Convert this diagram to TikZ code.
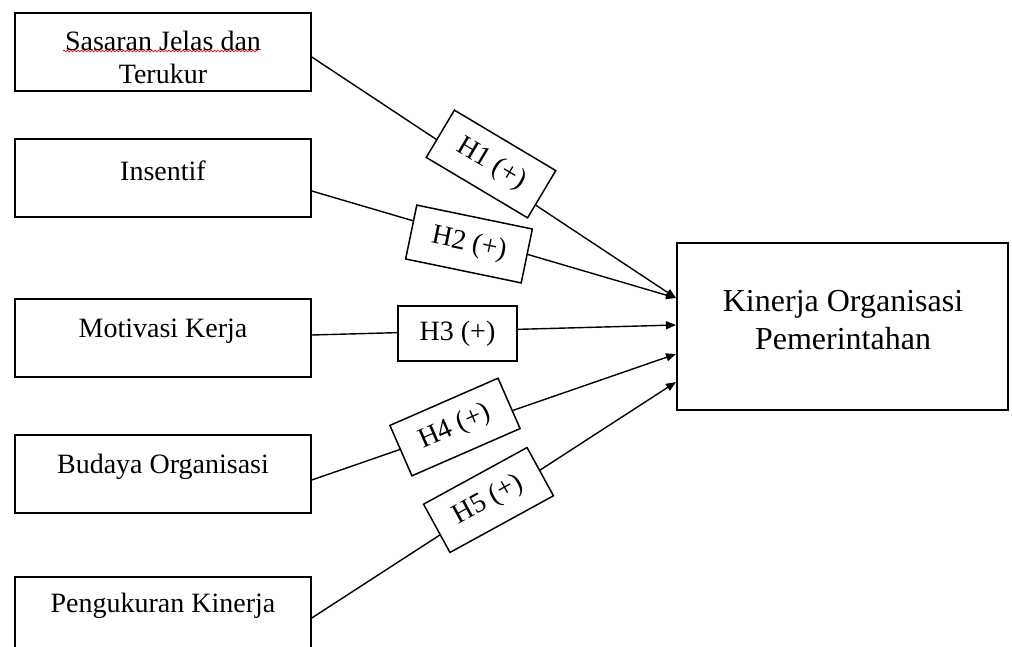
\documentclass[tikz,border=0pt]{standalone}
\usepackage{fontspec}
\setmainfont{Liberation Serif}
\usetikzlibrary{arrows.meta,decorations.pathmorphing}
\begin{document}
\begin{tikzpicture}[x=1pt,y=-1pt,
  lbox/.style={draw,line width=1.5pt,minimum width=296pt,minimum height=78pt,inner sep=0pt},
  ltext/.style={align=center,font=\fontsize{28}{33}\selectfont,inner sep=0pt},
  rbox/.style={draw,line width=2pt,minimum width=331pt,minimum height=167pt,inner sep=0pt},
  rtext/.style={align=center,font=\fontsize{32}{38}\selectfont,inner sep=0pt},
  hbox/.style={draw,fill=white,line width=1.5pt,minimum width=118pt,minimum height=55pt,inner sep=0pt,font=\fontsize{28}{33}\selectfont},
  conn/.style={line width=1.4pt,-{Triangle[length=10pt,width=8pt]}}]
\clip (0,0) rectangle (1012,647);
\fill[white] (0,0) rectangle (1012,647);
% left boxes
\node[lbox] (b1) at (163,52) {};
\node[lbox] (b2) at (163,178) {};
\node[lbox] (b3) at (163,338) {};
\node[lbox] (b4) at (163,474) {};
\node[lbox] (b5) at (163,616) {};
\node[ltext] (t1) at (163,57) {Sasaran Jelas dan\\Terukur};
\node[ltext] (t2) at (163,171) {Insentif};
\node[ltext] (t3) at (163,331) {Motivasi Kerja};
\node[ltext] (t4) at (163,467) {Budaya Organisasi};
\node[ltext] (t5) at (163,606) {Pengukuran Kinerja};
\draw[red,line width=0.7pt,decorate,decoration={snake,amplitude=0.8pt,segment length=3.5pt}] (63,51) -- (258,51);
% right box
\node[rbox] (k) at (842.5,326.5) {};
\node[rtext] (kt) at (843,320) {Kinerja Organisasi\\Pemerintahan};
% connectors
\draw[conn] ([yshift=-5pt]b1.east) -- ([yshift=28.5pt]k.west);
\draw[conn] ([yshift=-13pt]b2.east) -- ([yshift=28.5pt]k.west);
\draw[conn] ([yshift=3pt]b3.east) -- ([yshift=1.5pt]k.west);
\draw[conn] ([yshift=-6pt]b4.east) -- ([yshift=-27.5pt]k.west);
\draw[conn] ([yshift=-2pt]b5.east) -- ([yshift=-55.5pt]k.west);
% hypothesis labels
\node[hbox,rotate=-30.8] (h1) at (491,164) {H1 (+)};
\node[hbox,rotate=-11.7] (h2) at (469,244) {H2 (+)};
\node[hbox,minimum width=119pt] (h3) at (457.5,333.5) {H3 (+)};
\node[hbox,rotate=23.6] (h4) at (455,427) {H4 (+)};
\node[hbox,rotate=28.7] (h5) at (488.5,500) {H5 (+)};
\end{tikzpicture}
\end{document}
